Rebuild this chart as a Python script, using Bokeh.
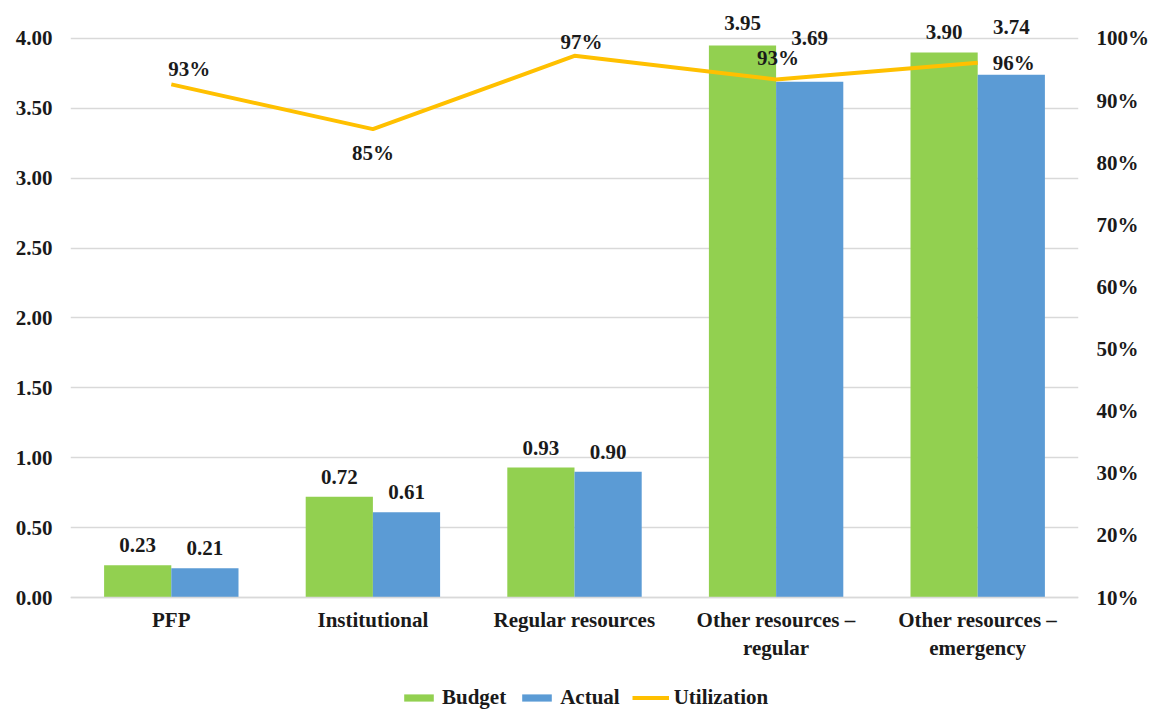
from bokeh.plotting import figure
from bokeh.models import (FactorRange, Range1d, LinearAxis, CategoricalAxis, FixedTicker,
                          NumeralTickFormatter, PrintfTickFormatter, ColumnDataSource,
                          LabelSet, Legend, LegendItem)
from bokeh.transform import dodge
from bokeh.embed import file_html
from bokeh.resources import INLINE

categories = ["PFP", "Institutional", "Regular resources",
              "Other resources \u2013\nregular", "Other resources \u2013\nemergency"]
budget = [0.23, 0.72, 0.93, 3.95, 3.90]
actual = [0.21, 0.61, 0.90, 3.69, 3.74]
utilization = [92.6, 85.4, 97.2, 93.4, 96.1]
left_ticks = [0.0, 0.5, 1.0, 1.5, 2.0, 2.5, 3.0, 3.5, 4.0]
right_ticks = [10, 20, 30, 40, 50, 60, 70, 80, 90, 100]

# label placement styling (screen pixels)
budget_label_dy = [20, 20, 20, 22, 20]
actual_label_dy = [20, 20, 20, 44, 48]
util_label_dx = [18, 0, 7, 2, 36]
util_label_dy = [15, -24, 14, 21, 0]

FONT = "Liberation Serif"
TXT = "#1a1a1a"
FS = "21px"

src = ColumnDataSource(dict(
    cat=categories, budget=budget, actual=actual, util=utilization,
    blab=[f"{v:.2f}" for v in budget], alab=[f"{v:.2f}" for v in actual],
    ulab=[f"{round(u)}%" for u in utilization],
    bdy=budget_label_dy, ady=actual_label_dy, udx=util_label_dx, udy=util_label_dy,
))

# layout: frame spans whole height; value 0 sits 587px below the top (4.2 units)
frame_h, plot_h = 700, 587
y_top = 4.2
y_bot = -(frame_h - plot_h) * y_top / plot_h
p = figure(frame_width=1008, frame_height=frame_h, x_range=FactorRange(factors=categories),
           y_range=Range1d(y_bot, y_top), output_backend="svg", toolbar_location=None,
           x_axis_location=None,
           min_border_left=70, min_border_right=72, min_border_top=10, min_border_bottom=0)
p.outline_line_color = None
p.extra_y_ranges = {"pct": Range1d(10 + y_bot * 22.5, 10 + y_top * 22.5)}

rb = p.vbar(x=dodge("cat", -1/6, range=p.x_range), top="budget", width=1/3, source=src,
            fill_color="#92D050", line_color=None)
ra = p.vbar(x=dodge("cat", 1/6, range=p.x_range), top="actual", width=1/3, source=src,
            fill_color="#5B9BD5", line_color=None)
rl = p.line(x="cat", y="util", source=src, y_range_name="pct", line_color="#FFC000",
            line_width=4)

def style_axis(ax):
    ax.major_label_text_font = FONT
    ax.major_label_text_font_style = "bold"
    ax.major_label_text_font_size = FS
    ax.major_label_text_color = TXT
    ax.major_tick_line_color = None
    ax.minor_tick_line_color = None

# left axis
ly = p.yaxis[0]
ly.ticker = FixedTicker(ticks=left_ticks)
ly.formatter = NumeralTickFormatter(format="0.00")
ly.axis_line_color = None
ly.major_label_standoff = 12
style_axis(ly)

# right axis
ry = LinearAxis(y_range_name="pct", ticker=FixedTicker(ticks=right_ticks),
                formatter=PrintfTickFormatter(format="%d%%"))
ry.axis_line_color = None
ry.major_label_standoff = 12
style_axis(ry)
p.add_layout(ry, "right")

# x axis pinned at value 0
lx = CategoricalAxis(fixed_location=0)
lx.axis_line_color = "#d9d9d9"
lx.axis_line_width = 1.5
lx.major_label_standoff = 4
style_axis(lx)
p.add_layout(lx, "below")

p.xgrid.grid_line_color = None
p.ygrid.ticker = FixedTicker(ticks=left_ticks)
p.ygrid.grid_line_color = "#d9d9d9"
p.ygrid.grid_line_width = 1.5

lab_kw = dict(text_font=FONT, text_font_style="bold", text_font_size=FS,
              text_color=TXT, text_align="center", text_baseline="middle", source=src)
p.add_layout(LabelSet(x=dodge("cat", -1/6, range=p.x_range), y="budget", text="blab",
                      y_offset="bdy", **lab_kw))
p.add_layout(LabelSet(x=dodge("cat", 1/6, range=p.x_range), y="actual", text="alab",
                      y_offset="ady", **lab_kw))
p.add_layout(LabelSet(x="cat", y="util", text="ulab", x_offset="udx", y_offset="udy",
                      y_range_name="pct", **lab_kw))

legend = Legend(items=[LegendItem(label="Budget", renderers=[rb]),
                       LegendItem(label="Actual", renderers=[ra]),
                       LegendItem(label="Utilization", renderers=[rl])],
                orientation="horizontal", location=(330, 0),
                label_text_font=FONT, label_text_font_style="bold",
                label_text_font_size=FS, label_text_color=TXT,
                glyph_width=37, glyph_height=9, label_standoff=5, spacing=12,
                border_line_color=None, background_fill_alpha=0, padding=0, margin=0)
p.add_layout(legend, "center")

open("out.html", "w").write(file_html(p, INLINE))
